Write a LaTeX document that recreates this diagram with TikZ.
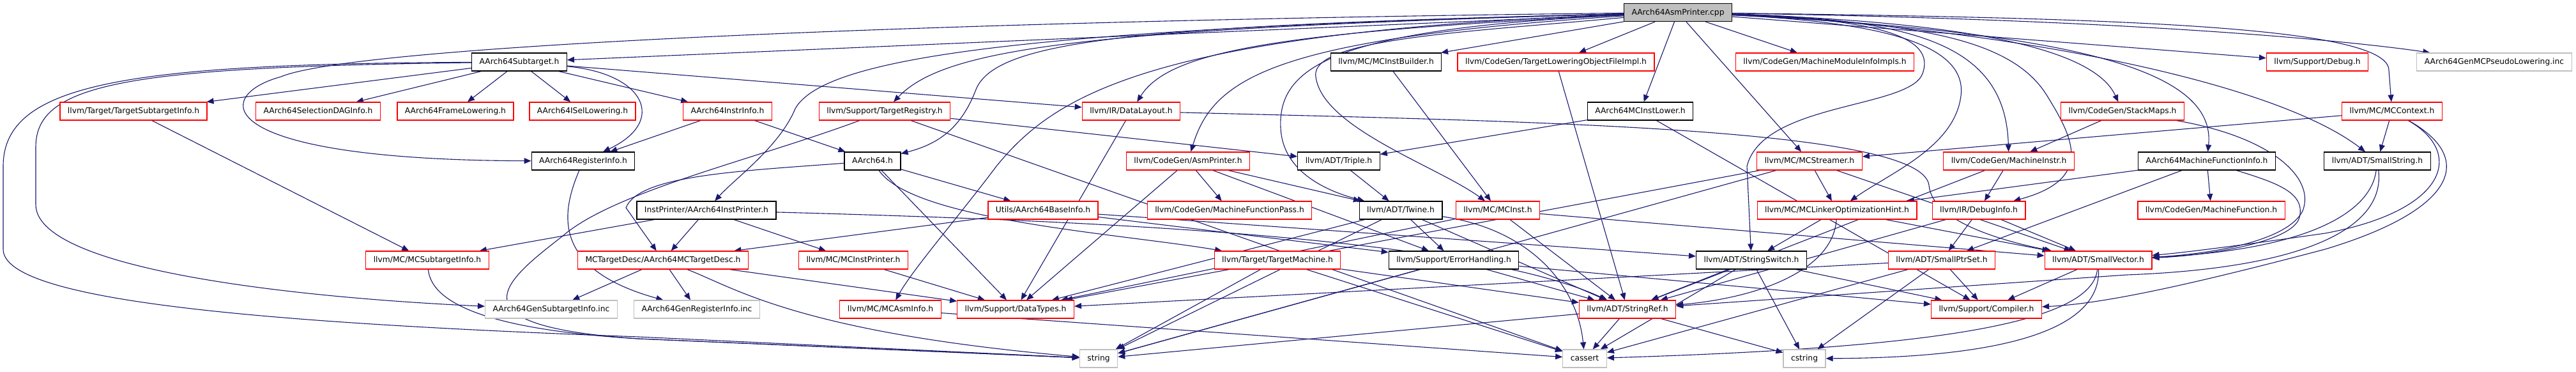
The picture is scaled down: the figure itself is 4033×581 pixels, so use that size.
\documentclass[tikz,border=0pt]{standalone}
\usepackage{fontspec}
\setmainfont{DejaVu Sans}
\usetikzlibrary{arrows.meta,backgrounds}
\definecolor{edgeblue}{HTML}{191970}
\definecolor{boxgrey}{HTML}{BFBFBF}

\begin{document}
\begin{tikzpicture}[x=1pt,y=-1pt,
  box/.style={rectangle,fill=white,line width=1.2pt,minimum height=28pt,inner xsep=12pt,inner ysep=0pt,
    text height=9.5pt,text depth=2.5pt,font=\fontsize{12.3}{14}\selectfont},
  filebox/.style={box,draw=black},
  cutbox/.style={box,draw=red},
  sysbox/.style={box,draw=boxgrey},
  mainbox/.style={box,draw=black,fill=boxgrey},
  dep/.style={draw=edgeblue,line width=1.1pt,-{Triangle[length=11pt,width=9pt]}}]
  \def\rA{19.5}\def\rB{97}\def\rC{174}\def\rD{252}
  \def\rE{329}\def\rF{407}\def\rG{484}\def\rH{561}
  \useasboundingbox (0,0) rectangle (4033,581);

  % files
  \node[mainbox] (root) at (2627,\rA) {AArch64AsmPrinter.cpp};

  \node[filebox] (sub) at (813,\rB) {AArch64Subtarget.h};
  \node[filebox] (mcib) at (2170,\rB) {llvm/MC/MCInstBuilder.h};
  \node[cutbox] (tlof) at (2436,\rB) {llvm/CodeGen/TargetLoweringObjectFileImpl.h};
  \node[cutbox] (mmii) at (2857,\rB) {llvm/CodeGen/MachineModuleInfoImpls.h};
  \node[cutbox] (dbg) at (3628,\rB) {llvm/Support/Debug.h};
  \node[sysbox] (pseudo) at (3905,\rB) {AArch64GenMCPseudoLowering.inc};

  \node[cutbox] (tsi) at (209,\rC) {llvm/Target/TargetSubtargetInfo.h};
  \node[cutbox] (sdag) at (498,\rC) {AArch64SelectionDAGInfo.h};
  \node[cutbox] (frame) at (713,\rC) {AArch64FrameLowering.h};
  \node[cutbox] (isel) at (912,\rC) {AArch64ISelLowering.h};
  \node[cutbox] (instr) at (1139,\rC) {AArch64InstrInfo.h};
  \node[cutbox] (treg) at (1385,\rC) {llvm/Support/TargetRegistry.h};
  \node[cutbox] (dl) at (1771,\rC) {llvm/IR/DataLayout.h};
  \node[filebox] (lower) at (2568,\rC) {AArch64MCInstLower.h};
  \node[cutbox] (stackmaps) at (3323,\rC) {llvm/CodeGen/StackMaps.h};
  \node[cutbox] (mcctx) at (3745,\rC) {llvm/MC/MCContext.h};

  \node[filebox] (reginfo) at (913,\rD) {AArch64RegisterInfo.h};
  \node[filebox] (aarch) at (1366,\rD) {AArch64.h};
  \node[cutbox] (asmp) at (1860,\rD) {llvm/CodeGen/AsmPrinter.h};
  \node[filebox] (triple) at (2096,\rD) {llvm/ADT/Triple.h};
  \node[cutbox] (mcstr) at (2833,\rD) {llvm/MC/MCStreamer.h};
  \node[cutbox] (minstr) at (3145,\rD) {llvm/CodeGen/MachineInstr.h};
  \node[filebox] (mfi) at (3455,\rD) {AArch64MachineFunctionInfo.h};
  \node[filebox] (sstr) at (3722,\rD) {llvm/ADT/SmallString.h};

  \node[filebox] (iprint) at (1106,\rE) {InstPrinter/AArch64InstPrinter.h};
  \node[cutbox] (baseinfo) at (1633,\rE) {Utils/AArch64BaseInfo.h};
  \node[cutbox] (mfp) at (1925,\rE) {llvm/CodeGen/MachineFunctionPass.h};
  \node[filebox] (twine) at (2193,\rE) {llvm/ADT/Twine.h};
  \node[cutbox] (mcinst) at (2345,\rE) {llvm/MC/MCInst.h};
  \node[cutbox] (loh) at (2876,\rE) {llvm/MC/MCLinkerOptimizationHint.h};
  \node[cutbox] (dinfo) at (3098,\rE) {llvm/IR/DebugInfo.h};
  \node[cutbox] (mf) at (3462,\rE) {llvm/CodeGen/MachineFunction.h};

  \node[cutbox] (mcsti) at (669,\rF) {llvm/MC/MCSubtargetInfo.h};
  \node[cutbox] (mctd) at (1038,\rF) {MCTargetDesc/AArch64MCTargetDesc.h};
  \node[cutbox] (mcip) at (1336,\rF) {llvm/MC/MCInstPrinter.h};
  \node[cutbox] (tm) at (2000,\rF) {llvm/Target/TargetMachine.h};
  \node[filebox] (err) at (2276,\rF) {llvm/Support/ErrorHandling.h};
  \node[filebox] (sswitch) at (2742,\rF) {llvm/ADT/StringSwitch.h};
  \node[cutbox] (sptr) at (3040,\rF) {llvm/ADT/SmallPtrSet.h};
  \node[cutbox] (svec) at (3285,\rF) {llvm/ADT/SmallVector.h};

  \node[sysbox] (gensti) at (863,\rG) {AArch64GenSubtargetInfo.inc};
  \node[sysbox] (genreg) at (1091,\rG) {AArch64GenRegisterInfo.inc};
  \node[cutbox] (mcai) at (1394,\rG) {llvm/MC/MCAsmInfo.h};
  \node[cutbox] (dtypes) at (1590,\rG) {llvm/Support/DataTypes.h};
  \node[cutbox] (sref) at (2548,\rG) {llvm/ADT/StringRef.h};
  \node[cutbox] (comp) at (3110,\rG) {llvm/Support/Compiler.h};

  \node[sysbox] (string) at (1720,\rH) {string};
  \node[sysbox] (cassert) at (2481,\rH) {cassert};
  \node[sysbox] (cstring) at (2825,\rH) {cstring};

  % includes
  \begin{scope}[on background layer]
    \foreach \t in {sub,mcib,tlof,lower,mmii,mcstr,dbg} \draw[dep] (root) -- (\t);
    \draw[dep] (root) .. controls (1500,32) and (560,70) .. (440,120)
      .. controls (330,150) and (330,250) .. (reginfo);
    \draw[dep] (root) .. controls (1600,45) and (1290,90) .. (1245,170)
      .. controls (1220,230) and (1150,280) .. (iprint);
    \draw[dep] (root) .. controls (1800,40) and (1560,60) .. (1528,140)
      .. controls (1505,200) and (1470,225) .. (aarch);
    \draw[dep] (root) .. controls (1700,45) and (1480,75) .. (treg);
    \draw[dep] (root) .. controls (2000,50) and (1830,80) .. (dl);
    \draw[dep] (root) .. controls (2000,60) and (1900,120) .. (asmp);
    \draw[dep] (root) .. controls (1800,50) and (1650,150) .. (1560,260)
      .. controls (1500,340) and (1430,420) .. (mcai);
    \draw[dep] (root) .. controls (2100,45) and (2000,100) .. (2005,200)
      .. controls (2008,270) and (2080,300) .. (twine);
    \draw[dep] (root) .. controls (2300,50) and (2050,60) .. (2060,120)
      .. controls (2070,200) and (2250,260) .. (mcinst);
    \draw[dep] (root) .. controls (2950,30) and (3030,60) .. (3010,115)
      .. controls (2990,170) and (2760,160) .. (2735,260) -- (sswitch);
    \draw[dep] (root) .. controls (2950,35) and (3080,70) .. (3070,150)
      .. controls (3060,230) and (2960,270) .. (loh);
    \draw[dep] (root) .. controls (3000,35) and (3150,60) .. (3205,150)
      .. controls (3245,215) and (3280,280) .. (dinfo);
    \draw[dep] (root) .. controls (3000,30) and (3140,70) .. (minstr);
    \draw[dep] (root) .. controls (3100,35) and (3280,80) .. (stackmaps);
    \draw[dep] (root) .. controls (3250,50) and (3470,110) .. (mfi);
    \draw[dep] (root) .. controls (3100,40) and (3550,120) .. (sstr);
    \draw[dep] (root) .. controls (3300,28) and (3740,40) .. (3740,110) -- (mcctx);
    \draw[dep] (root) .. controls (3300,30) and (3650,60) .. (pseudo);

    \foreach \t in {instr,frame,isel,sdag,dl,tsi} \draw[dep] (sub) -- (\t);
    \draw[dep] (sub) .. controls (1010,115) and (1045,190) .. (reginfo);
    \draw[dep] (sub) .. controls (200,100) and (5,130) .. (5,260) -- (5,390)
      .. controls (5,470) and (400,505) .. (1000,527) -- (string);
    \draw[dep] (sub) .. controls (200,105) and (56,130) .. (56,230) -- (56,320)
      .. controls (56,420) and (450,465) .. (gensti);
    \draw[dep] (tsi) -- (mcsti);
    \foreach \t in {reginfo,aarch} \draw[dep] (instr) -- (\t);
    \foreach \t in {triple,cassert} \draw[dep] (treg) -- (\t);
    \draw[dep] (treg) .. controls (1180,250) and (960,300) .. (880,370)
      .. controls (790,440) and (700,510) .. (1000,530) -- (string);
    \draw[dep] (dl) -- (dtypes);
    \draw[dep] (dl) .. controls (2400,190) and (3010,200) .. (3020,290)
      .. controls (3025,350) and (3150,380) .. (svec);
    \foreach \t in {triple,comp} \draw[dep] (lower) -- (\t);
    \draw[dep] (stackmaps) -- (minstr);
    \draw[dep] (stackmaps) .. controls (3560,215) and (3625,280) .. (3605,330)
      .. controls (3580,380) and (3450,398) .. (svec);
    \foreach \t in {mcstr,sstr} \draw[dep] (mcctx) -- (\t);
    \draw[dep] (mcctx) .. controls (3860,240) and (3830,330) .. (3640,365)
      .. controls (3500,385) and (3420,395) .. (svec);
    \draw[dep] (mcctx) .. controls (3880,250) and (3840,330) .. (3640,390)
      .. controls (3450,440) and (3300,475) .. (comp);
    \draw[dep] (reginfo) .. controls (880,330) and (860,420) .. (genreg);
    \foreach \t in {baseinfo,dtypes} \draw[dep] (aarch) -- (\t);
    \draw[dep] (aarch) .. controls (1150,268) and (1000,275) .. (980,325) -- (mctd);
    \draw[dep] (aarch) .. controls (1430,345) and (1750,365) .. (tm);
    \foreach \t in {mfp,dtypes,err,twine} \draw[dep] (asmp) -- (\t);
    \draw[dep] (triple) -- (twine);
    \foreach \t in {loh,svec,dtypes,string} \draw[dep] (mcstr) -- (\t);
    \foreach \t in {dinfo,sref} \draw[dep] (minstr) -- (\t);
    \foreach \t in {loh,sptr,mf} \draw[dep] (mfi) -- (\t);
    \draw[dep] (mfi) .. controls (3560,285) and (3610,300) .. (3600,340)
      .. controls (3590,380) and (3450,400) .. (svec);
    \draw[dep] (sstr) .. controls (3712,330) and (3620,390) .. (svec);
    \draw[dep] (sstr) .. controls (3735,360) and (3600,420) .. (3330,430) -- (sref);
    \foreach \t in {mctd,mcip,mcsti} \draw[dep] (iprint) -- (\t);
    \draw[dep] (iprint) .. controls (1700,345) and (2300,370) .. (sref);
    \foreach \t in {mctd,sswitch,err} \draw[dep] (baseinfo) -- (\t);
    \foreach \t in {err,sref,dtypes,string} \draw[dep] (twine) -- (\t);
    \draw[dep] (twine) .. controls (2400,360) and (2470,450) .. (cassert);
    \foreach \t in {sref,svec,dtypes} \draw[dep] (mcinst) -- (\t);
    \foreach \t in {sswitch,svec} \draw[dep] (loh) -- (\t);
    \draw[dep] (loh) .. controls (2870,420) and (2760,465) .. (sref);
    \foreach \t in {sref,sptr,svec} \draw[dep] (dinfo) -- (\t);
    \draw[dep] (mcsti) .. controls (675,470) and (750,515) .. (1000,530) -- (string);
    \foreach \t in {gensti,genreg,dtypes} \draw[dep] (mctd) -- (\t);
    \draw[dep] (mctd) .. controls (1150,450) and (1250,520) .. (string);
    \draw[dep] (mcip) -- (dtypes);
    \foreach \t in {string,cassert,sref} \draw[dep] (tm) -- (\t);
    \foreach \t in {string,sref,comp} \draw[dep] (err) -- (\t);
    \foreach \t in {sref,cassert,cstring,comp} \draw[dep] (sswitch) -- (\t);
    \foreach \t in {comp,cstring,cassert,dtypes} \draw[dep] (sptr) -- (\t);
    \draw[dep] (svec) -- (comp);
    \draw[dep] (svec) .. controls (3275,510) and (3000,545) .. (cassert);
    \draw[dep] (svec) .. controls (3290,540) and (3050,560) .. (cstring);
    \draw[dep] (mcai) -- (cassert);
    \foreach \t in {cassert,string,cstring} \draw[dep] (sref) -- (\t);
    \draw[dep] (mcib) -- (mcinst);
    \draw[dep] (tlof) -- (sref);
  \end{scope}
\end{tikzpicture}
\end{document}
